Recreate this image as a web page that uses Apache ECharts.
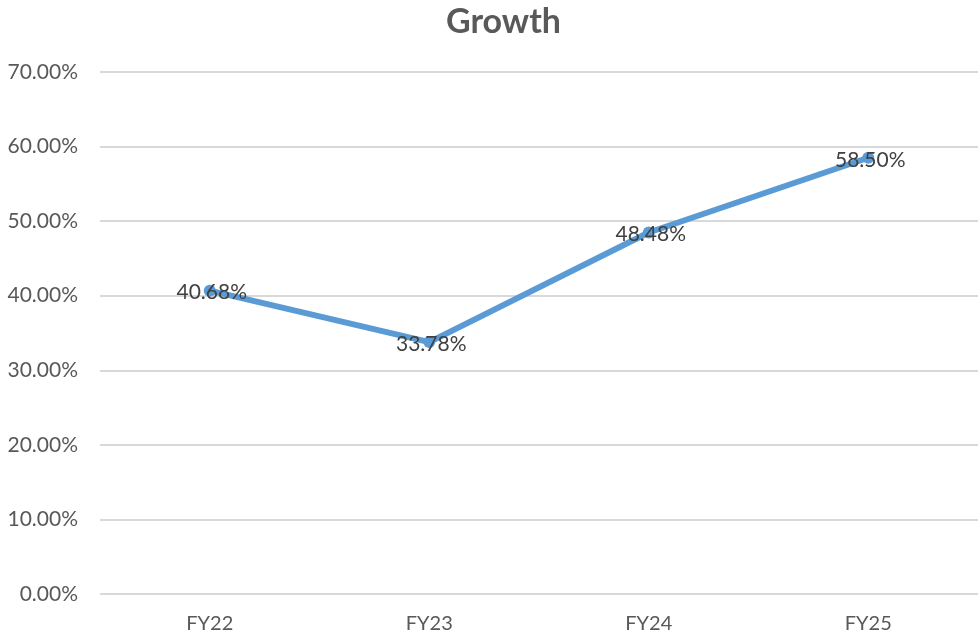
<!DOCTYPE html>
<html><head><meta charset="utf-8">
<script src="https://cdn.jsdelivr.net/npm/echarts@6/dist/echarts.min.js"></script>
<style>html,body{margin:0;padding:0;background:#fff}#c{width:978px;height:637px}</style>
</head><body><div id="c"></div>
<script>
const categories = ['FY22', 'FY23', 'FY24', 'FY25'];
const growth = [40.68, 33.78, 48.48, 58.50];
const yMin = 0, yMax = 70, yStep = 10;

const chart = echarts.init(document.getElementById('c'));
chart.setOption({
  animation: false,
  title: {
    text: 'Growth', left: 441, top: 0,
    textStyle: { fontFamily: 'Lato', fontWeight: 'bold', fontSize: 34, color: '#595959' }
  },
  grid: { left: 100, right: 0, top: 72, bottom: 43, containLabel: false },
  xAxis: {
    type: 'category', data: categories, boundaryGap: true,
    axisLine: { show: false }, axisTick: { show: false },
    axisLabel: { fontFamily: 'Lato', fontSize: 20, color: '#595959', margin: 20 }
  },
  yAxis: {
    type: 'value', min: yMin, max: yMax, interval: yStep,
    axisLine: { show: false }, axisTick: { show: false },
    splitLine: { lineStyle: { color: '#d9d9d9', width: 2 } },
    axisLabel: { fontFamily: 'Lato', fontSize: 21, color: '#595959', margin: 22,
      formatter: v => v.toFixed(2) + '%' }
  },
  series: [{
    type: 'line', data: growth,
    lineStyle: { color: '#5b9bd5', width: 6 },
    itemStyle: { color: '#5b9bd5' },
    symbol: 'circle', symbolSize: 12,
    label: { show: true, position: 'inside', offset: [2, 2], fontFamily: 'Lato', fontSize: 21, color: '#404040',
      formatter: p => p.value.toFixed(2) + '%' }
  }]
});
</script></body></html>
